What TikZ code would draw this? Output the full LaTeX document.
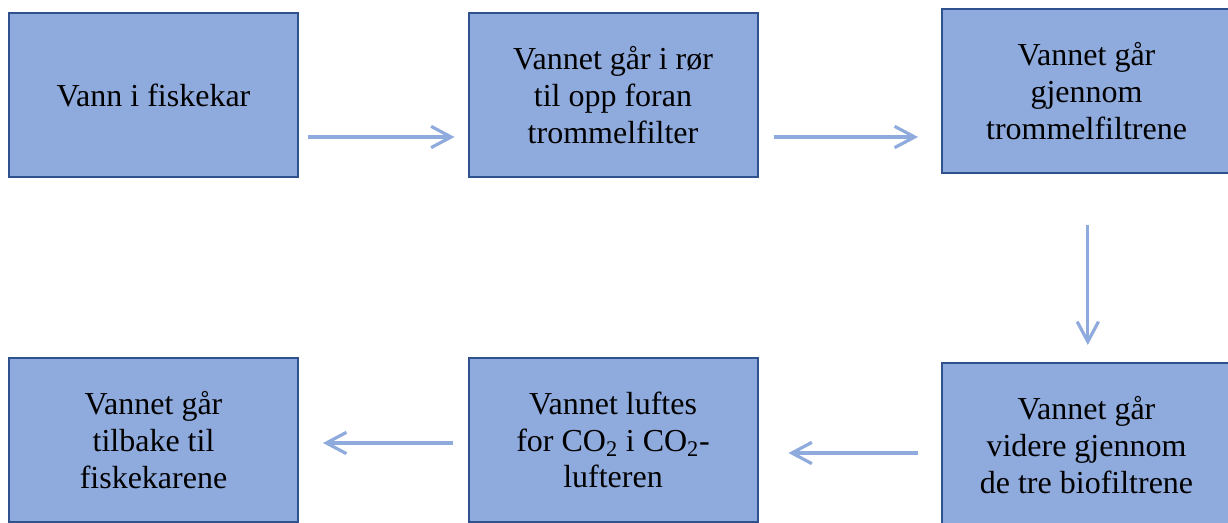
\documentclass[tikz,border=0pt]{standalone}
\usepackage{fontspec}
\setmainfont{Liberation Serif}
\usetikzlibrary{arrows.meta}
\definecolor{boxfill}{HTML}{8FAADC}
\definecolor{boxline}{HTML}{2F528F}
\definecolor{arrowcol}{HTML}{8FAADC}
\begin{document}
\begin{tikzpicture}[x=0.75pt,y=-0.75pt,
  stepbox/.style={draw=boxline,fill=boxfill,line width=1.5pt,rectangle,
    minimum width=216.75pt,minimum height=123pt,inner sep=0pt,outer sep=0pt,
    align=center,font=\fontsize{24pt}{27.6pt}\selectfont},
  flow/.style={draw=arrowcol,line width=2.4pt,-{Straight Barb[length=15pt,width=16pt]}}]
\useasboundingbox (0,0) rectangle (1228,523);
\node[stepbox] (b1) at (153.5,95) {Vann i fiskekar};
\node[stepbox] (b2) at (613,95) {Vannet går i rør\\til opp foran\\trommelfilter};
\node[stepbox] (b3) at (1086.5,91) {Vannet går\\gjennom\\trommelfiltrene};
\node[stepbox] (b4) at (1086.5,445) {Vannet går\\videre gjennom\\de tre biofiltrene};
\node[stepbox] (b5) at (613,440) {Vannet luftes\\for CO\textsubscript{2} i CO\textsubscript{2}-\\lufteren};
\node[stepbox] (b6) at (153.5,440) {Vannet går\\tilbake til\\fiskekarene};
\draw[flow] ([xshift=7.5pt,yshift=-31.5pt]b1.east) -- ([xshift=-10.5pt,yshift=-31.5pt]b2.west);
\draw[flow] ([xshift=12pt,yshift=-31.5pt]b2.east) -- ([xshift=-18pt,yshift=-34.5pt]b3.west);
\draw[flow] ([xshift=1pt,yshift=-39pt]b3.south) -- ([xshift=1pt,yshift=13.5pt]b4.north);
\draw[flow] ([xshift=-18pt,yshift=-6pt]b4.west) -- ([xshift=23.25pt,yshift=-9.75pt]b5.east);
\draw[flow] ([xshift=-12pt,yshift=-2.25pt]b5.west) -- ([xshift=18.75pt,yshift=-2.25pt]b6.east);
\end{tikzpicture}
\end{document}
